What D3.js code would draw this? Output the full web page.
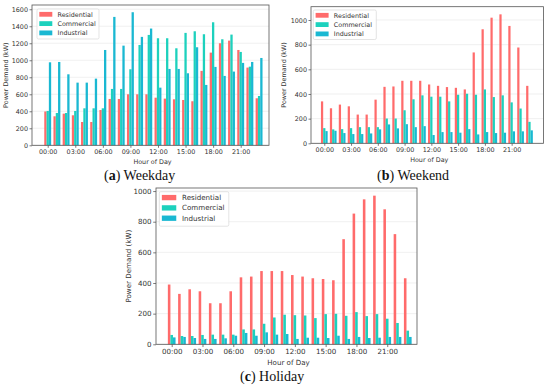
<!DOCTYPE html>
<html lang="en">
<head>
  <meta charset="UTF-8">
  <title>Power demand by hour</title>
  <style>
    body { margin: 0; background: #fff; }
    svg { display: block; }
  </style>
</head>
<body>
  <svg id="chart"></svg>
  <script src="https://cdn.jsdelivr.net/npm/d3@7"></script>
  <script>
    var W = 550, H = 392;

    var hours = d3.range(24);
    var hourTicks = [0, 3, 6, 9, 12, 15, 18, 21];
    var hourLabels = ["00:00", "03:00", "06:00", "09:00", "12:00", "15:00", "18:00", "21:00"];
    var seriesNames = ["Residential", "Commercial", "Industrial"];
    var colors = ["#ff6b6b", "#1dd1bd", "#1ab8d2"];

    // weekday
    var weekdayRes = [398, 341, 372, 353, 274, 274, 415, 545, 545, 600, 600, 600, 560, 549, 541, 533, 518, 875, 1090, 1200, 1231, 1121, 914, 553];
    var weekdayCom = [404, 380, 380, 404, 435, 435, 435, 663, 663, 894, 1180, 1298, 1259, 1259, 1141, 1322, 1341, 1306, 1447, 1247, 1302, 1098, 925, 580];
    var weekdayInd = [976, 980, 835, 737, 737, 784, 1121, 1510, 1172, 1565, 1275, 1373, 678, 898, 898, 847, 1153, 710, 922, 816, 867, 969, 980, 1027];

    // weekend
    var weekendRes = [340, 284, 314, 300, 233, 233, 354, 458, 461, 507, 507, 507, 477, 466, 456, 450, 437, 737, 925, 1019, 1046, 952, 777, 466];
    var weekendCom = [123, 113, 115, 123, 131, 131, 131, 201, 201, 268, 357, 389, 378, 378, 340, 394, 402, 394, 437, 375, 389, 332, 282, 174];
    var weekendInd = [99, 102, 83, 75, 75, 80, 113, 153, 121, 155, 131, 139, 67, 91, 91, 86, 115, 72, 91, 83, 86, 97, 97, 105];

    // holiday
    var holidayRes = [390, 329, 359, 346, 268, 268, 346, 437, 442, 478, 478, 478, 452, 442, 431, 426, 418, 686, 853, 946, 970, 881, 719, 431];
    var holidayCom = [61, 54, 54, 61, 63, 63, 63, 97, 97, 134, 175, 193, 190, 188, 171, 197, 199, 186, 210, 184, 197, 167, 139, 89];
    var holidayInd = [45, 48, 41, 35, 35, 39, 56, 74, 56, 78, 63, 67, 35, 43, 43, 41, 56, 35, 48, 41, 43, 48, 48, 48];

    var yTicksA = [0, 200, 400, 600, 800, 1000, 1200, 1400, 1600];
    var yTicksB = [0, 200, 400, 600, 800, 1000];

    var panels = [
      { letter: "a", title: "Weekday", series: [weekdayRes, weekdayCom, weekdayInd], yTicks: yTicksA,
        x0: 32, x1: 269, y0: 5, y1: 145.3, xDom: [-1.71, 24.08], yMax: 1650, fs: 6.4,
        ylabX: 6, capX: 104, capY: 180, legX: 37, legY: 9, legW: 62, legH: 30 },
      { letter: "b", title: "Weekend", series: [weekendRes, weekendCom, weekendInd], yTicks: yTicksB,
        x0: 311, x1: 543.5, y0: 6.7, y1: 143.3, xDom: [-1.49, 24.57], yMax: 1108, fs: 6.4,
        ylabX: 283.3, capX: 377, capY: 180, legX: 313.3, legY: 10, legW: 63, legH: 29.5 },
      { letter: "c", title: "Holiday", series: [holidayRes, holidayCom, holidayInd], yTicks: yTicksB,
        x0: 156, x1: 417, y0: 188, y1: 344.3, xDom: [-1.53, 23.9], yMax: 1020, fs: 7.1,
        ylabX: 128, capX: 240, capY: 381, legX: 159.3, legY: 191.7, legW: 69.5, legH: 34.5 }
    ];

    var svg = d3.select("#chart").attr("width", W).attr("height", H)
      .style("font-family", "DejaVu Sans, sans-serif");

    var barW = 0.25;

    panels.forEach(p => {
      var x = d3.scaleLinear().domain(p.xDom).range([p.x0, p.x1]);
      var y = d3.scaleLinear().domain([0, p.yMax]).range([p.y1, p.y0]);
      var g = svg.append("g");
      var k = p.fs / 6.4;

      // grid
      g.selectAll(".grid").data(p.yTicks).enter().append("line")
        .attr("x1", p.x0).attr("x2", p.x1)
        .attr("y1", d => y(d)).attr("y2", d => y(d))
        .attr("stroke", "#e6e6e6").attr("stroke-width", 0.6);

      // bars
      p.series.forEach((vals, si) => {
        g.selectAll(".bar" + si).data(hours).enter().append("rect")
          .attr("x", h => x(h + (si - 1) * barW - barW / 2))
          .attr("width", x(barW) - x(0))
          .attr("y", h => y(vals[h]))
          .attr("height", h => y(0) - y(vals[h]))
          .attr("fill", colors[si]);
      });

      // x axis
      var xAxis = d3.axisBottom(x).tickValues(hourTicks)
        .tickFormat((d, i) => hourLabels[i]).tickSize(2.5 * k).tickPadding(1.5 * k);
      var gx = g.append("g").attr("transform", "translate(0," + p.y1 + ")").call(xAxis);
      var yAxis = d3.axisLeft(y).tickValues(p.yTicks).tickFormat(d3.format("d"))
        .tickSize(2.5 * k).tickPadding(1.5 * k);
      var gy = g.append("g").attr("transform", "translate(" + p.x0 + ",0)").call(yAxis);
      [gx, gy].forEach(a => {
        a.select(".domain").remove();
        a.selectAll("line").attr("stroke", "#444").attr("stroke-width", 0.7);
        a.selectAll("text").attr("fill", "#333").style("font-size", p.fs + "px")
          .style("font-family", "DejaVu Sans, sans-serif");
      });

      // frame
      g.append("rect").attr("x", p.x0).attr("y", p.y0)
        .attr("width", p.x1 - p.x0).attr("height", p.y1 - p.y0)
        .attr("fill", "none").attr("stroke", "#555").attr("stroke-width", 0.8);

      // labels
      g.append("text").attr("x", (p.x0 + p.x1) / 2 + 2).attr("y", p.y1 + 19 * k)
        .attr("text-anchor", "middle").attr("fill", "#333").style("font-size", p.fs + "px")
        .text("Hour of Day");
      g.append("text")
        .attr("transform", "translate(" + p.ylabX + "," + (p.y0 + p.y1) / 2 + ") rotate(-90)")
        .attr("text-anchor", "middle").attr("dy", "0.35em").attr("fill", "#333")
        .style("font-size", p.fs + "px").text("Power Demand (kW)");

      // legend
      var leg = g.append("g");
      leg.append("rect").attr("x", p.legX).attr("y", p.legY)
        .attr("width", p.legW).attr("height", p.legH).attr("rx", 1.5)
        .attr("fill", "#fff").attr("fill-opacity", 0.85)
        .attr("stroke", "#d8d8d8").attr("stroke-width", 0.7);
      seriesNames.forEach((name, i) => {
        var cy = p.legY + (5.3 + i * 9.3) * k;
        leg.append("rect").attr("x", p.legX + 2.3 * k).attr("y", cy - 2.4 * k)
          .attr("width", 13 * k).attr("height", 4.8 * k).attr("fill", colors[i]);
        leg.append("text").attr("x", p.legX + 20.5 * k).attr("y", cy).attr("dy", "0.35em")
          .attr("fill", "#333").style("font-size", p.fs + "px").text(name);
      });

      // caption
      var cap = g.append("text").attr("x", p.capX).attr("y", p.capY)
        .style("font-family", "Liberation Serif, serif").style("font-size", "14px").attr("fill", "#111");
      cap.append("tspan").text("(");
      cap.append("tspan").attr("font-weight", "bold").text(p.letter);
      cap.append("tspan").text(") " + p.title);
    });
  </script>
</body>
</html>
